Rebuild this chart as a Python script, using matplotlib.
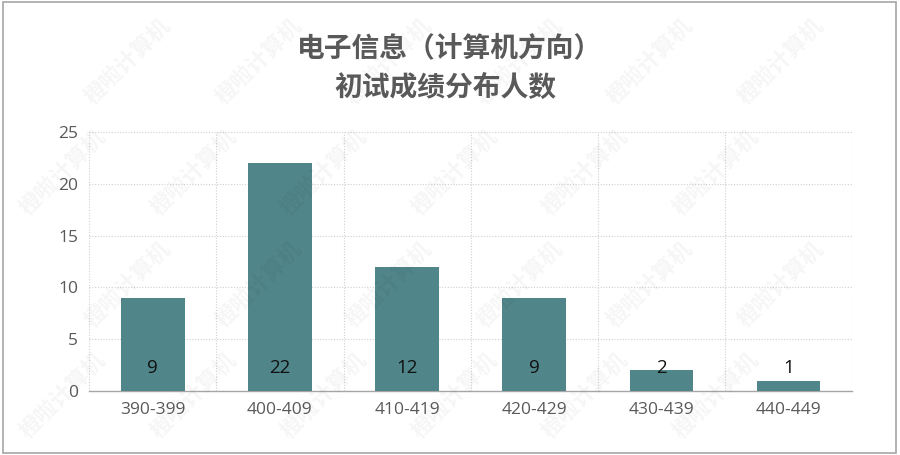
import matplotlib
matplotlib.use("Agg")
import matplotlib.pyplot as plt
from matplotlib.patches import Rectangle

plt.rcParams['font.family'] = ['Noto Sans CJK SC', 'DejaVu Sans']

# Score ranges and number of candidates in each one.
score_ranges = ["390-399", "400-409", "410-419", "420-429", "430-439", "440-449"]
counts = [9, 22, 12, 9, 2, 1]
y_ticks = [0, 5, 10, 15, 20, 25]

title_lines = ["电子信息（计算机方向）", "初试成绩分布人数"]
watermark = "橙啦计算机"

bar_color = "#50858A"
text_gray = "#595959"
grid_gray = "#D0D0D0"


def main() -> None:
    fig = plt.figure(figsize=(9, 4.55), dpi=100)
    ax = fig.add_axes([0.099, 0.1407, 0.848, 0.569])

    # Faint diagonal watermark, kept inside the figure.
    for row in range(4):
        for col in range(7):
            wx = 0.07 + col * 0.145 + (row % 2) * 0.0725
            if wx > 0.93:
                continue
            fig.text(
                wx,
                0.13 + row * 0.245,
                watermark,
                rotation=45,
                fontsize=16,
                color="#000000",
                alpha=0.04,
                fontweight="bold",
                ha="center",
                va="center",
                zorder=0,
            )

    x = list(range(len(score_ranges)))
    ax.bar(x, counts, width=0.5, color=bar_color, zorder=3)

    for xi, value in zip(x, counts):
        ax.text(
            xi, 2.2, str(value),
            ha="center", va="center",
            fontsize=13.5, color="#111111",
            family=["Open Sans", "DejaVu Sans"],
            zorder=4,
        )

    ax.set_xlim(-0.5, len(score_ranges) - 0.5)
    ax.set_ylim(0, 25)
    ax.set_xticks(x)
    ax.set_xticklabels(score_ranges)
    ax.set_yticks(y_ticks)

    # Dotted grid: horizontal at ticks, vertical at category boundaries.
    for yt in y_ticks[1:]:
        ax.axhline(yt, color=grid_gray, linestyle=(0, (1, 1.5)), linewidth=0.8, zorder=1)
    for xb in range(len(score_ranges) + 1):
        ax.axvline(xb - 0.5, color=grid_gray, linestyle=(0, (1, 1.5)), linewidth=0.8, zorder=1)

    for side in ["top", "right", "left"]:
        ax.spines[side].set_visible(False)
    ax.spines["bottom"].set_color("#A6A6A6")
    ax.spines["bottom"].set_linewidth(1.0)
    ax.tick_params(axis="both", length=0, labelsize=12.5, labelcolor=text_gray, pad=8)
    for label in ax.get_xticklabels() + ax.get_yticklabels():
        label.set_family(["Open Sans", "DejaVu Sans"])
    ax.set_facecolor("none")

    fig.text(0.499, 0.893, title_lines[0], ha="center", va="center",
             fontsize=20, fontweight="bold", color=text_gray)
    fig.text(0.495, 0.806, title_lines[1], ha="center", va="center",
             fontsize=20, fontweight="bold", color=text_gray)

    # Outer frame of the chart area.
    fig.patches.append(Rectangle((0.003, 0.005), 0.992, 0.99, transform=fig.transFigure,
                                 fill=False, edgecolor="#A6A6A6", linewidth=1.2))

    fig.savefig("out.png", dpi=100)


if __name__ == "__main__":
    main()
